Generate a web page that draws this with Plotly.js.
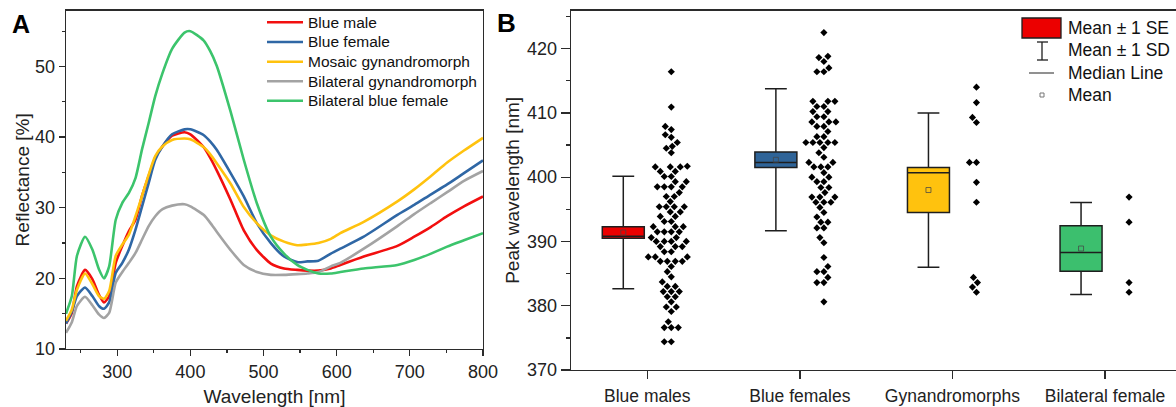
<!DOCTYPE html>
<html>
<head>
<meta charset="utf-8">
<script src="https://cdn.plot.ly/plotly-3.0.1.min.js"></script>
<style>html,body{margin:0;padding:0;background:#fff;}#chart{width:1176px;height:407px;}</style>
</head>
<body>
<div id="chart"></div>
<script>
// ---------- Panel A: reflectance spectra ----------
const wavelength = [230,238,245,256,266,275,282,289,298,307,316,325,334,343,352,362,375,392,400,418,427,436,455,473,491,510,528,546,560,575,592,605,637,683,706,729,751,774,800];
const blueMale = [13.6,15.1,18.9,21.2,19.9,17.7,16.6,17.5,22.2,24.6,26.7,28.3,31.7,34.5,37.1,38.7,40.2,40.7,40.4,38.6,37.1,35.3,31.1,26.8,24.0,22.1,21.4,21.2,21.1,21.1,21.4,21.9,23.1,24.6,25.9,27.3,28.8,30.2,31.6];
const blueFemale = [13.6,15.3,17.5,18.7,17.5,16.1,15.7,16.6,20.8,22.2,24.1,26.9,30.2,33.5,36.8,38.7,40.4,41.1,41.1,40.3,39.4,38.2,34.9,31.6,27.8,25.0,23.1,22.3,22.4,22.5,23.5,24.2,25.9,29.0,30.4,31.9,33.3,34.9,36.7];
const mosaicGyn = [14.0,15.6,18.4,20.7,19.2,17.5,17.1,18.2,23.2,24.8,26.2,28.8,31.7,34.7,37.3,38.7,39.6,39.8,39.7,38.6,37.6,36.3,33.4,30.1,27.8,26.1,25.2,24.7,24.8,25.0,25.6,26.4,28.0,30.9,32.6,34.5,36.4,38.1,39.9];
const bilateralGyn = [12.3,13.8,16.1,17.4,16.2,14.9,14.4,15.1,19.4,20.9,22.2,23.6,25.5,27.4,28.8,29.8,30.3,30.5,30.2,29.0,27.9,26.6,24.0,21.9,20.9,20.5,20.5,20.6,20.7,20.9,21.7,22.2,24.2,27.4,29.1,30.7,32.2,33.8,35.2];
const bilateralBlueFemale = [15.0,17.5,23.2,25.9,24.1,21.3,20.0,21.7,28.3,30.7,32.1,34.2,38.3,42.0,45.8,49.1,52.5,54.8,55.0,53.7,52.2,50.1,43.6,36.8,30.6,25.9,23.5,21.9,21.2,20.7,20.7,20.9,21.4,21.9,22.6,23.5,24.5,25.4,26.4];
const spectraNames = ['Blue male','Blue female','Mosaic gynandromorph','Bilateral gynandromorph','Bilateral blue female'];

// ---------- Panel B: peak wavelength ----------
const groupNames = ['Blue males','Blue females','Gynandromorphs','Bilateral female'];
const groupMeans = [391.4, 402.7, 398.0, 388.9];
const groupSE = [0.9, 1.2, 3.5, 3.55];
const groupSD = [8.75, 11.05, 12.0, 7.15];
const groupMedians = [390.8, 402.3, 400.7, 388.3];
const peaksBlueMales = [416.4,410.9,407.9,407.4,406.6,406.2,405.4,404.8,404.5,403.8,
  401.6,401.6,401.6,401.7,400.9,400.9,400.1,400.1,399.3,399.3,
  398.5,398.5,398.5,398.5,397.6,397.0,397.0,396.2,395.4,395.4,395.4,395.4,
  394.6,394.6,393.9,393.9,393.1,393.1,392.3,392.3,392.3,
  391.5,391.5,391.5,391.5,390.6,390.6,390.0,390.0,390.0,390.0,
  389.2,389.2,389.2,388.4,388.4,387.6,387.6,387.6,386.9,386.9,386.9,386.9,
  386.1,385.3,384.5,383.7,383.0,383.0,382.2,382.2,382.2,381.4,381.4,380.6,
  379.8,379.8,379.1,377.5,376.6,376.6,376.6,374.4,374.4];
const peaksBlueFemales = [422.5,418.8,418.6,418.0,417.0,416.4,416.4,411.8,411.8,411.8,411.0,411.0,410.2,410.2,409.4,409.4,408.6,408.6,408.6,407.9,407.9,407.1,406.3,406.3,405.4,405.4,405.4,405.4,405.4,404.6,403.8,403.1,402.3,402.3,401.6,401.6,401.6,400.7,400.0,400.0,399.3,399.3,398.4,398.4,397.6,396.9,396.9,396.9,396.1,396.1,396.1,395.3,394.5,393.8,393.0,393.0,392.1,392.1,390.6,389.8,387.5,386.1,385.3,385.3,384.4,383.6,383.6,380.6];
const peaksGynandromorphs = [414.0,411.6,409.3,408.5,402.3,402.3,399.2,396.1,384.4,383.6,382.9,382.1];
const peaksBilateralFemale = [396.9,393.0,383.6,382.1];

const spectraColors = ['#F20F0F','#2F67A5','#FFC20E','#A3A3A3','#3CC46C'];
const boxColors = ['#EC0000','#2F6498','#FFC20E','#3CBF6E'];

const W = 1176, H = 407;
const FONT = '"Liberation Sans", Arial, sans-serif';
const axA_x = [66/W, 483/W], axA_y = [1-349/H, 1-10.7/H];
const axB_x = [571/W, 1], axB_y = [1-370/H, 1-10.7/H];
const rangeAx = [230, 800], rangeAy = [10, 57.9];
const rangeBx = [-0.5, 3.465], rangeBy = [370, 425.9];

const pxPerX = (axB_x[1]-axB_x[0])*W/(rangeBx[1]-rangeBx[0]);
const pxPerY = (axB_y[1]-axB_y[0])*H/(rangeBy[1]-rangeBy[0]);
const boxShift = -24/pxPerX, swarmShift = 24/pxPerX, boxWidth = 42/pxPerX;

function beeswarm(values, center, diam) {
  const order = values.map((v,i)=>i).sort((a,b)=>values[a]-values[b]);
  const placed = [];
  const xs = new Array(values.length);
  for (const i of order) {
    const y = values[i]*pxPerY;
    let off = 0;
    for (let k = 0; k < 400; k++) {
      const cand = (k % 2 === 0 ? 1 : -1) * Math.ceil(k/2);
      let ok = true;
      for (const p of placed) {
        const dy = p.y - y, dx = p.x - cand;
        if (dx*dx + dy*dy < diam*diam) { ok = false; break; }
      }
      if (ok) { off = cand; break; }
    }
    placed.push({x: off, y: y});
    xs[i] = center + off/pxPerX;
  }
  return xs;
}

const traces = [];
const spectra = [blueMale, blueFemale, mosaicGyn, bilateralGyn, bilateralBlueFemale];
spectra.forEach((s, i) => {
  traces.push({type:'scatter', mode:'lines', x: wavelength, y: s, name: spectraNames[i],
    line:{color: spectraColors[i], width: 2.6, shape:'spline', smoothing: 0.6},
    xaxis:'x', yaxis:'y', hoverinfo:'skip', showlegend:false});
});

const groups = [peaksBlueMales, peaksBlueFemales, peaksGynandromorphs, peaksBilateralFemale];
groups.forEach((vals, i) => {
  const m = groupMeans[i];
  traces.push({type:'box', xaxis:'x2', yaxis:'y2', x:[i + boxShift],
    q1:[m - groupSE[i]], median:[groupMedians[i]], q3:[m + groupSE[i]],
    lowerfence:[m - groupSD[i]], upperfence:[m + groupSD[i]],
    width: boxWidth, whiskerwidth: 0.52, fillcolor: boxColors[i],
    line:{color:'#1e1e1e', width:1.5}, boxpoints:false, showlegend:false, hoverinfo:'skip'});
  traces.push({type:'scatter', mode:'markers', xaxis:'x2', yaxis:'y2',
    x: beeswarm(vals, i + swarmShift, 6.3), y: vals,
    marker:{symbol:'diamond', size:5.5, color:'#000'}, showlegend:false, hoverinfo:'skip'});
});
traces.push({type:'scatter', mode:'markers', xaxis:'x2', yaxis:'y2',
  x: groupMeans.map((m,i)=> i + boxShift), y: groupMeans,
  marker:{symbol:'square-open', size:5, color:'rgba(70,70,70,0.75)', line:{width:1}},
  showlegend:false, hoverinfo:'skip'});

const axisCommon = {showgrid:false, zeroline:false, showline:true, linecolor:'#2b2b2b', linewidth:1.4,
  ticks:'outside', tickcolor:'#2b2b2b', tickwidth:1.3, tickfont:{family:FONT, size:18, color:'#222'}};

const px = x => x/W, py = y => 1 - y/H;
const shapes = [];
const annotations = [];

// Legend for panel A (keys + text)
const legAY = [22.3, 42, 61.7, 81.3, 100.7];
spectraNames.forEach((n, i) => {
  shapes.push({type:'line', xref:'paper', yref:'paper', x0:px(267), x1:px(303), y0:py(legAY[i]), y1:py(legAY[i]),
    line:{color: spectraColors[i], width:2.6}});
  annotations.push({xref:'paper', yref:'paper', x:px(306), y:py(legAY[i]), xanchor:'left', yanchor:'middle',
    text:n, showarrow:false, font:{family:FONT, size:15.5, color:'#111'}});
});

// Legend for panel B (keys + text)
shapes.push(
  {type:'rect', xref:'paper', yref:'paper', x0:px(1022), x1:px(1061), y0:py(38), y1:py(18), fillcolor:'#EC0000', line:{color:'#1e1e1e', width:1.3}},
  {type:'line', xref:'paper', yref:'paper', x0:px(1042), x1:px(1042), y0:py(42), y1:py(60), line:{color:'#1e1e1e', width:1.3}},
  {type:'line', xref:'paper', yref:'paper', x0:px(1037), x1:px(1048), y0:py(42), y1:py(42), line:{color:'#1e1e1e', width:1.3}},
  {type:'line', xref:'paper', yref:'paper', x0:px(1037), x1:px(1048), y0:py(60), y1:py(60), line:{color:'#1e1e1e', width:1.3}},
  {type:'line', xref:'paper', yref:'paper', x0:px(1029), x1:px(1054), y0:py(73), y1:py(73), line:{color:'#555', width:1.3}},
  {type:'rect', xref:'paper', yref:'paper', x0:px(1040), x1:px(1044), y0:py(97), y1:py(93), fillcolor:'rgba(0,0,0,0)', line:{color:'#777', width:1}}
);
const legText = ['Mean ± 1 SE','Mean ± 1 SD','Median Line','Mean'];
const legY = [28, 50, 73, 95];
legText.forEach((t,i)=>annotations.push({xref:'paper', yref:'paper', x:px(1066), y:py(legY[i]), xanchor:'left', yanchor:'middle',
  text:t, showarrow:false, font:{family:FONT, size:17.5, color:'#111'}}));
annotations.push({xref:'paper', yref:'paper', x:px(21), y:py(24), text:'<b>A</b>', showarrow:false, xanchor:'center', yanchor:'middle', font:{family:FONT, size:25, color:'#000'}});
annotations.push({xref:'paper', yref:'paper', x:px(506), y:py(23), text:'<b>B</b>', showarrow:false, xanchor:'center', yanchor:'middle', font:{family:FONT, size:26, color:'#000'}});

const layout = {
  width: W, height: H, margin:{l:0, r:0, t:0, b:0}, paper_bgcolor:'#fff', plot_bgcolor:'#fff',
  font:{family:FONT, color:'#222'},
  showlegend: false,
  xaxis: Object.assign({}, axisCommon, {domain: axA_x, range: rangeAx, anchor:'y', mirror:true, dtick:100, tick0:0, ticklen:6,
    minor:{dtick:50, ticklen:3, ticks:'outside', tickcolor:'#2b2b2b', showgrid:false},
    title:{text:'Wavelength [nm]', font:{family:FONT, size:19, color:'#222'}, standoff:9}}),
  yaxis: Object.assign({}, axisCommon, {domain: axA_y, range: rangeAy, anchor:'x', mirror:true, dtick:10, tick0:0, ticklen:6,
    minor:{dtick:5, ticklen:3, ticks:'outside', tickcolor:'#2b2b2b', showgrid:false},
    title:{text:'Reflectance [%]', font:{family:FONT, size:19, color:'#222'}, standoff:0}}),
  xaxis2: Object.assign({}, axisCommon, {domain: axB_x, range: rangeBx, anchor:'y2', mirror:true, tickmode:'array',
    tickvals:[0,1,2,3], ticktext: groupNames, ticklen:8, ticklabelstandoff:2, tickfont:{family:FONT, size:17.5, color:'#222'}}),
  yaxis2: Object.assign({}, axisCommon, {domain: axB_y, range: rangeBy, anchor:'x2', mirror:false, dtick:10, tick0:0, ticklen:9,
    minor:{dtick:5, ticklen:4, ticks:'outside', tickcolor:'#2b2b2b', showgrid:false},
    title:{text:'Peak wavelength [nm]', font:{family:FONT, size:19, color:'#222'}, standoff:2}}),
  shapes: shapes, annotations: annotations
};

Plotly.newPlot('chart', traces, layout, {staticPlot:true, displayModeBar:false});
</script>
</body>
</html>
